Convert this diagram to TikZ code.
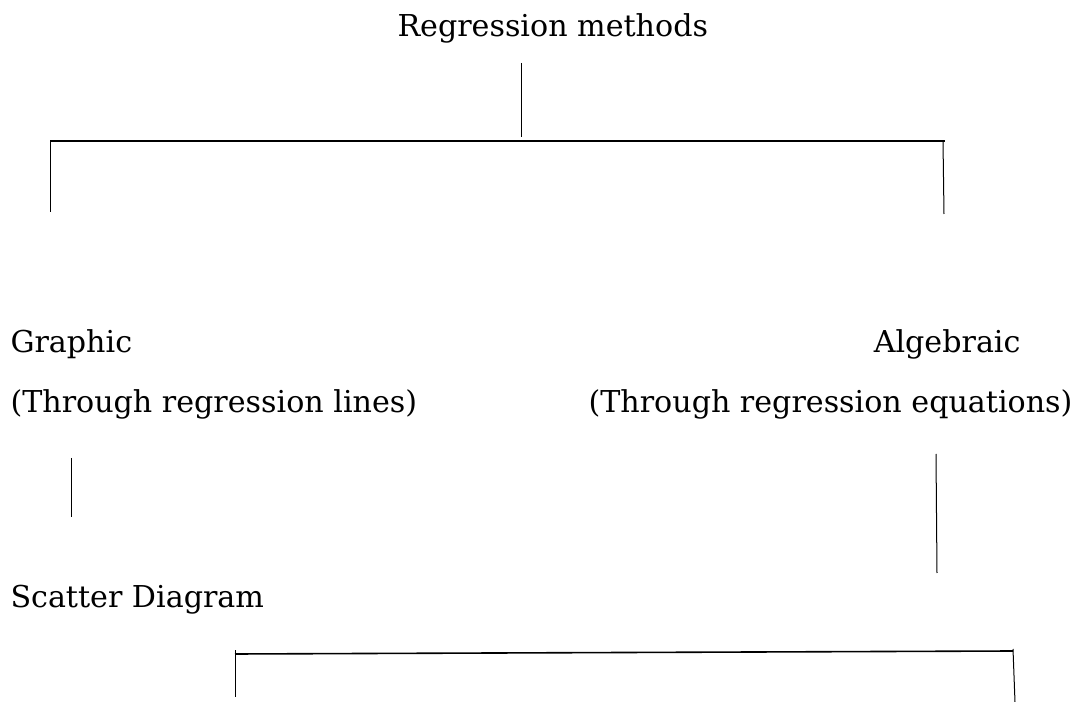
\documentclass[tikz,border=0pt]{standalone}
\usepackage{fontspec}
\setmainfont{DejaVu Serif}
\usepackage{tikz}
\tikzset{every picture/.style={line width=0.75pt}}
\tikzset{lbl/.style={inner sep=0pt,font=\fontsize{22.6}{27}\selectfont}}

\begin{document}
\begin{tikzpicture}[x=0.75pt,y=0.75pt,yscale=-1,xscale=1]
\useasboundingbox (0,0) rectangle (1076,702); %set diagram to 1076 by 702

% Text Node
\node[lbl,anchor=base west] (regm) at (397,37) {Regression methods};
% Text Node
\node[lbl,anchor=base west] (graph) at (10,353) {Graphic};
% Text Node
\node[lbl,anchor=base east] (alg) at (1021,353) {Algebraic};
% Text Node
\node[lbl,anchor=base west] (thrlines) at (10,413) {(Through regression lines)};
% Text Node
\node[lbl,anchor=base east] (threqs) at (1073,413) {(Through regression equations)};
% Text Node
\node[lbl,anchor=base west] (scat) at (10,607) {Scatter Diagram};

%Straight Lines
\coordinate (t1) at (521,63);
\coordinate (t2) at (521,137);
\draw (t1) -- (t2) ;
%Straight Lines
\coordinate (hl) at (50,141);
\coordinate (hr) at (945,141);
\draw [line width=1pt] (hl) -- (hr) ;
\coordinate (vl) at (50,212);
\coordinate (vr) at (944,214);
\draw (hl) -- (vl) ;
\draw (943,141) -- (vr) ;

%Straight Lines
\coordinate (g1) at (71,458);
\coordinate (g2) at (71,517);
\draw (g1) -- (g2) ;
%Straight Lines
\coordinate (a1) at (936,454);
\coordinate (a2) at (937,573);
\draw (a1) -- (a2) ;

%Straight Lines
\coordinate (bl) at (235,654);
\coordinate (br) at (1013,651);
\draw [line width=1.2pt] (bl) -- (br) ;
\coordinate (bl2) at (235,697);
\coordinate (br2) at (1015,702);
\draw (235,650) -- (bl2) ;
\draw (1013,649) -- (br2) ;
\end{tikzpicture}
\end{document}
